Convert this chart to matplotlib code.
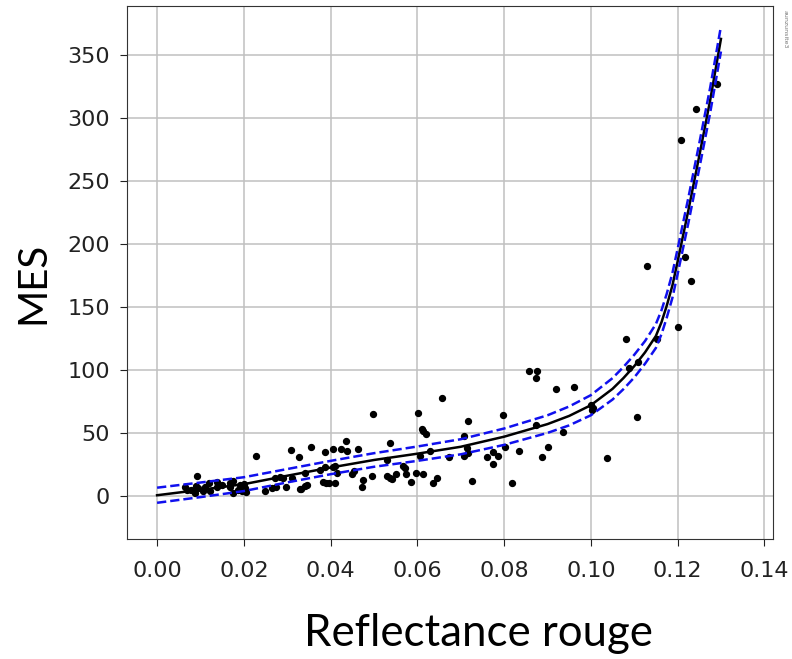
import numpy as np
import matplotlib
matplotlib.use("Agg")
import matplotlib.pyplot as plt

# scatter points
obs_x = [0.0064, 0.0079, 0.0087, 0.0095, 0.0110, 0.0122, 0.0137, 0.0168, 0.0175, 0.0187,
         0.0202, 0.0206, 0.0248, 0.0264, 0.0275, 0.0298, 0.0329, 0.0341, 0.0093, 0.0228,
         0.0137, 0.0168, 0.0191, 0.0070, 0.0090, 0.0105, 0.0150, 0.0175, 0.0200, 0.0120,
         0.0195, 0.0308, 0.0327, 0.0355, 0.0388, 0.0405, 0.0425, 0.0435, 0.0437, 0.0464,
         0.0497, 0.0538, 0.0310, 0.0341, 0.0283, 0.0291, 0.0272, 0.0383, 0.0390, 0.0397,
         0.0411, 0.0414, 0.0387, 0.0406, 0.0411, 0.0375, 0.0454, 0.0450, 0.0474, 0.0472,
         0.0495, 0.0529, 0.0538, 0.0550, 0.0529, 0.0345, 0.0331, 0.0568, 0.0571, 0.0574,
         0.0541, 0.0585, 0.0598, 0.0614, 0.0637, 0.0646, 0.0725, 0.0818, 0.0656, 0.0602,
         0.0611, 0.0614, 0.0620, 0.0716, 0.0797, 0.0708, 0.0715, 0.0708, 0.0717, 0.0674,
         0.0629, 0.0606, 0.0802, 0.0774, 0.0787, 0.0760, 0.0774, 0.0835, 0.0858, 0.0875,
         0.0873, 0.0920, 0.0961, 0.1002, 0.1004, 0.0937, 0.0874, 0.0902, 0.0887, 0.1037,
         0.1217, 0.1231, 0.1130, 0.1200, 0.1080, 0.1152, 0.1108, 0.1087, 0.1000, 0.1107,
         0.1290, 0.1242, 0.1207]
obs_y = [6.9, 4.8, 2.6, 6.1, 7.4, 4.2, 7.4, 6.9, 2.1, 4.8,
         6.1, 2.9, 4.2, 6.1, 6.9, 7.4, 5.3, 7.9, 16.0, 31.5,
         11.1, 10.6, 8.7, 5.0, 8.0, 3.5, 9.0, 12.0, 9.5, 10.0,
         4.0, 36.8, 30.7, 38.9, 34.9, 37.5, 37.5, 43.9, 36.0, 37.5,
         65.3, 42.3, 14.5, 18.0, 15.3, 14.0, 14.5, 11.3, 10.0, 10.0,
         10.6, 18.5, 23.3, 22.8, 23.8, 20.6, 19.8, 17.5, 12.7, 7.4,
         15.9, 15.9, 14.0, 17.5, 28.6, 8.5, 5.6, 24.0, 22.0, 17.2,
         13.5, 11.3, 18.0, 17.2, 10.0, 14.5, 12.1, 10.0, 77.8, 65.6,
         52.9, 51.6, 49.2, 59.8, 64.3, 47.6, 38.3, 31.7, 33.9, 31.2,
         35.7, 31.7, 39.1, 35.2, 31.7, 30.7, 25.4, 36.0, 99.2, 99.2,
         93.9, 84.9, 86.5, 68.3, 70.0, 51.0, 56.3, 39.1, 31.2, 29.9,
         190.0, 170.4, 182.8, 133.9, 124.8, 124.8, 106.1, 101.3, 72.0, 62.7,
         327.5, 307.7, 283.0]

# fitted curve and its confidence half-width
fit_x = [0, 0.01, 0.02, 0.03, 0.04, 0.05, 0.06, 0.07, 0.08, 0.09, 0.095, 0.10,
         0.105, 0.1075, 0.11, 0.1125, 0.115, 0.1163, 0.1175, 0.1188, 0.12,
         0.1225, 0.125, 0.1275, 0.13]
fit_y = [0.5, 4.8, 9.3, 16, 22.5, 28.5, 33.5, 39, 47, 57, 63.5, 72,
         85, 93.5, 103, 114, 127, 138, 151, 167, 186,
         227, 270, 314, 363]
fit_hw = [6, 5.8, 5.5, 5.3, 5.3, 5.4, 5.7, 6, 6.5, 7, 7.5, 8,
          8.5, 8.8, 9, 9, 9.5, 9.5, 9.5, 9.8, 10,
          10, 10, 10, 10]

fit_x = np.array(fit_x)
fit_y = np.array(fit_y)
fit_hw = np.array(fit_hw)

fig = plt.figure(figsize=(7.92, 6.59), dpi=100)
ax = fig.add_axes([0.160, 0.1826, 0.816, 0.808])

ax.grid(True, color="#c0c0c0", linewidth=1.1)
ax.set_axisbelow(True)
ax.scatter(obs_x, obs_y, s=18, color="k", zorder=3)
ax.plot(fit_x, fit_y, color="k", linewidth=1.8, zorder=4)
ax.plot(fit_x, fit_y + fit_hw, color="#1010ee", linestyle="--", linewidth=1.8, zorder=5)
ax.plot(fit_x, fit_y - fit_hw, color="#1010ee", linestyle="--", linewidth=1.8, zorder=5)

ax.set_xlim(-0.007, 0.142)
ax.set_ylim(-34, 389)
ax.set_xticks(np.arange(0, 0.141, 0.02))
ax.set_yticks(np.arange(0, 351, 50))
ax.set_xticklabels(["%.2f" % v for v in np.arange(0, 0.141, 0.02)])
ax.tick_params(axis="both", labelsize=16, length=5, colors="#222222")
ax.tick_params(axis="x", pad=11)
ax.tick_params(axis="y", pad=7)
for sp in ax.spines.values():
    sp.set_color("#333333")

fig.text(0.042, 0.571, "MES", rotation=90, fontsize=29, family="Lato",
         ha="center", va="center")
fig.text(0.604, 0.039, "Reflectance rouge", fontsize=31.5, family="Lato",
         ha="center", va="center")
fig.text(0.991, 0.955, "aunzunsite3", rotation=-90, fontsize=4.5, color="#777777",
         ha="center", va="center")

fig.savefig("out.png", dpi=100)
